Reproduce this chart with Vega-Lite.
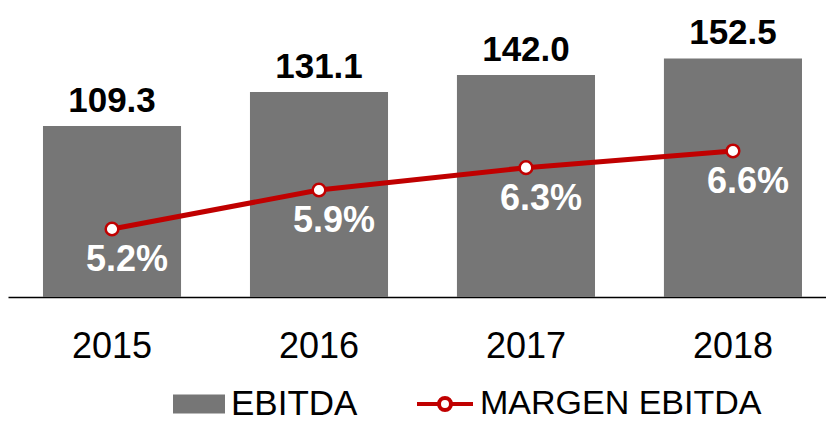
{
  "$schema": "https://vega.github.io/schema/vega-lite/v6.json",
  "autosize": "none",
  "width": 818,
  "height": 277,
  "padding": {"left": 8, "top": 20, "right": 0, "bottom": 124},
  "background": "white",
  "config": {"view": {"stroke": null}, "font": "Liberation Sans"},
  "data": {"values": [
    {"year": "2015", "ebitda": 109.3, "margen": 0.052},
    {"year": "2016", "ebitda": 131.1, "margen": 0.059},
    {"year": "2017", "ebitda": 142.0, "margen": 0.063},
    {"year": "2018", "ebitda": 152.5, "margen": 0.066}
  ]},
  "encoding": {
    "x": {
      "field": "year", "type": "nominal", "title": null,
      "scale": {"paddingInner": 0.333, "paddingOuter": 0.1425, "align": 0.593},
      "axis": {"labelAngle": 0, "labelFontSize": 36, "labelColor": "#000", "labelFont": "Liberation Sans",
               "domainColor": "#000", "domainWidth": 1.5, "ticks": false, "tickSize": 0, "labelPadding": 32, "grid": false}
    }
  },
  "layer": [
    {
      "mark": {"type": "bar"},
      "encoding": {
        "y": {"field": "ebitda", "type": "quantitative", "scale": {"domain": [0, 177.1]}, "axis": null},
        "color": {"datum": "EBITDA", "type": "nominal", "scale": {"range": ["#767676"]},
          "legend": {"title": null, "orient": "none", "legendX": 165, "legendY": 358,
            "symbolType": "M-1,-0.365L1,-0.365L1,0.365L-1,0.365Z", "symbolSize": 2704, "symbolStrokeWidth": 0,
            "labelFontSize": 35, "labelColor": "#000", "labelFont": "Liberation Sans", "labelOffset": 6, "labelLimit": 500, "padding": 0}}
      }
    },
    {
      "mark": {"type": "text", "fontSize": 35, "fontWeight": "bold", "color": "#000", "baseline": "alphabetic", "dy": -14},
      "encoding": {
        "y": {"field": "ebitda", "type": "quantitative", "scale": {"domain": [0, 177.1]}, "axis": null},
        "text": {"field": "ebitda", "type": "quantitative", "format": ".1f"}
      }
    },
    {
      "mark": {"type": "line", "strokeWidth": 5},
      "encoding": {
        "y": {"field": "margen", "type": "quantitative", "scale": {"domain": [0.0398, 0.0895]}, "axis": null},
        "stroke": {"datum": "MARGEN EBITDA", "type": "nominal", "scale": {"range": ["#C00000"]},
          "legend": {"title": null, "orient": "none", "legendX": 407, "legendY": 354,
            "symbolType": "M-1,0L-0.214,0M0.214,0L1,0M0.214,0A0.214,0.214,0,1,1,-0.214,0A0.214,0.214,0,1,1,0.214,0Z",
            "symbolSize": 3136, "symbolStrokeWidth": 4, "symbolFillColor": "white",
            "labelFontSize": 34, "labelColor": "#000", "labelFont": "Liberation Sans", "labelOffset": 5, "labelLimit": 500, "padding": 0,
            "encode": {"symbols": {"update": {"fill": {"value": "white"}, "strokeWidth": {"value": 4}}}}}}
      }
    },
    {
      "mark": {"type": "point", "filled": true, "fill": "white", "stroke": "#C00000", "strokeWidth": 2.5, "size": 160, "opacity": 1},
      "encoding": {
        "y": {"field": "margen", "type": "quantitative", "scale": {"domain": [0.0398, 0.0895]}, "axis": null}
      }
    },
    {
      "mark": {"type": "text", "fontSize": 36, "fontWeight": "bold", "color": "white", "baseline": "alphabetic", "dx": 15, "dy": 42},
      "encoding": {
        "y": {"field": "margen", "type": "quantitative", "scale": {"domain": [0.0398, 0.0895]}, "axis": null},
        "text": {"field": "margen", "type": "quantitative", "format": ".1%"}
      }
    }
  ],
  "resolve": {"scale": {"y": "independent"}}
}
